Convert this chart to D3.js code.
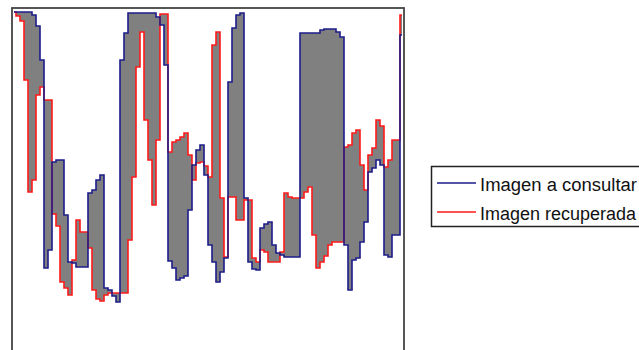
<!DOCTYPE html>
<html>
<head>
<meta charset="utf-8">
<script src="https://cdn.jsdelivr.net/npm/d3@7"></script>
<style>
  body { margin: 0; background: #fff; }
  svg { display: block; }
</style>
</head>
<body>
<div id="chart"></div>
<script>
// sample positions along the curve
const samples = d3.range(98);

// "Imagen a consultar"
const consultar = [340,340,340,340,340,337,326,292,84,102,190,192,192,137,90,89,85,85,85,159,
  162,172,177,64,62,56,50,292,319,339,339,339,339,339,339,339,335,327,287,91,
  84,72,74,76,142,187,202,207,177,107,90,70,80,94,270,324,337,339,154,90,
  83,82,124,128,130,107,99,97,95,95,95,95,319,319,319,319,319,322,323,323,
  323,320,315,107,62,92,94,110,130,180,184,192,187,97,95,117,117,317];

// "Imagen recuperada"
const recuperada = [340,336,331,272,160,172,257,265,252,252,138,126,70,64,57,92,132,120,120,104,
  62,53,51,57,59,59,59,59,59,112,175,285,320,232,192,147,212,338,338,200,
  210,212,215,219,197,172,189,190,186,175,307,320,154,95,155,155,132,132,152,152,
  94,90,102,100,90,90,90,100,159,155,154,154,154,160,165,117,84,90,96,107,
  110,110,110,205,207,219,222,187,162,197,204,232,226,185,192,212,212,337];

const legendLabels = ["Imagen a consultar", "Imagen recuperada"];
const colors = ["#1c1c8a", "#ff1a1a"];

const width = 639, height = 350;
const frame = {left: 12, top: 8, right: 404, bottom: 362};

const svg = d3.select("#chart").append("svg")
  .attr("width", width)
  .attr("height", height);

const x = d3.scaleLinear()
  .domain([0, samples.length - 1])
  .range([14, 402]);

const y = d3.scaleLinear()
  .domain([0, 340])
  .range([352, 12]);

// gray band between the two curves
const area = d3.area()
  .x(d => x(d))
  .y0(d => y(recuperada[d]))
  .y1(d => y(consultar[d]))
  .curve(d3.curveStep);

svg.append("path")
  .datum(samples)
  .attr("fill", "#808080")
  .attr("d", area);

const line = vals => d3.line()
  .x(d => x(d))
  .y(d => y(vals[d]))
  .curve(d3.curveStep);

svg.append("path")
  .datum(samples)
  .attr("fill", "none")
  .attr("stroke", colors[1])
  .attr("stroke-width", 1.6)
  .attr("d", line(recuperada));

svg.append("path")
  .datum(samples)
  .attr("fill", "none")
  .attr("stroke", colors[0])
  .attr("stroke-width", 1.6)
  .attr("d", line(consultar));

// plot frame
svg.append("rect")
  .attr("x", frame.left)
  .attr("y", frame.top)
  .attr("width", frame.right - frame.left)
  .attr("height", frame.bottom - frame.top)
  .attr("fill", "none")
  .attr("stroke", "#444")
  .attr("stroke-width", 1.8);

// legend
const legend = svg.append("g");
legend.append("rect")
  .attr("x", 431.5)
  .attr("y", 166.5)
  .attr("width", 220)
  .attr("height", 60)
  .attr("fill", "#fff")
  .attr("stroke", "#222")
  .attr("stroke-width", 1.5);

const items = legend.selectAll("g.item").data(legendLabels)
  .join("g")
  .classed("item", true)
  .attr("transform", (d, i) => `translate(0, ${183 + i * 29})`);

items.append("line")
  .attr("x1", 437).attr("x2", 476)
  .attr("y1", 0).attr("y2", 0)
  .attr("stroke", (d, i) => colors[i])
  .attr("stroke-width", 1.5);

items.append("text")
  .attr("x", 480)
  .attr("y", 8)
  .attr("font-family", "Liberation Sans, Arial, sans-serif")
  .attr("font-size", 18)
  .attr("fill", "#111")
  .attr("textLength", (d, i) => i === 0 ? 157 : 156)
  .attr("lengthAdjust", "spacingAndGlyphs")
  .text(d => d);
</script>
</body>
</html>
